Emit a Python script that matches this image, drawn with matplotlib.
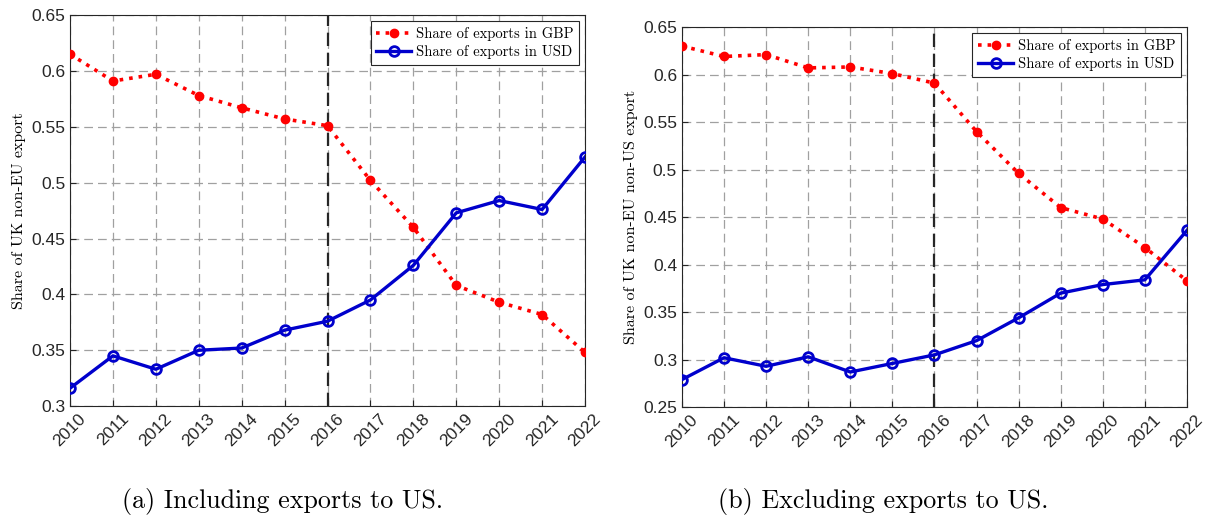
import matplotlib.pyplot as plt
import numpy as np
from matplotlib.ticker import FuncFormatter

years = np.arange(2010, 2023)

# (a) including exports to US
gbp_incl = [0.615, 0.591, 0.597, 0.578, 0.567, 0.557, 0.551, 0.502, 0.460, 0.408, 0.393, 0.382, 0.348]
usd_incl = [0.316, 0.345, 0.333, 0.350, 0.352, 0.368, 0.376, 0.395, 0.426, 0.473, 0.484, 0.476, 0.523]

# (b) excluding exports to US
gbp_excl = [0.630, 0.619, 0.621, 0.607, 0.608, 0.601, 0.591, 0.540, 0.496, 0.460, 0.448, 0.418, 0.383]
usd_excl = [0.279, 0.302, 0.293, 0.303, 0.287, 0.296, 0.305, 0.320, 0.344, 0.370, 0.379, 0.384, 0.436]

brexit_year = 2016
serif = "cmr10"
sans = "Liberation Sans"


def draw_panel(ax, gbp, usd, ylim, ylabel):
    ax.plot(years, gbp, linestyle=":", color="#ff0000", linewidth=2.6,
            marker="o", markersize=6, markerfacecolor="#ff0000",
            label="Share of exports in GBP", zorder=3)
    ax.plot(years, usd, linestyle="-", color="#0000cc", linewidth=2.4,
            marker="o", markersize=7, markerfacecolor="none", markeredgewidth=2,
            label="Share of exports in USD", zorder=3)
    ax.axvline(brexit_year, color="#262626", linestyle=(0, (6, 3)), linewidth=1.6, zorder=2)

    ax.set_xlim(years[0], years[-1])
    ax.set_ylim(*ylim)
    ax.set_xticks(years)
    ax.set_xticklabels([str(y) for y in years], rotation=45, fontfamily=sans, fontsize=12.5)
    ax.set_yticks(np.arange(ylim[0], ylim[1] + 1e-9, 0.05))
    ax.yaxis.set_major_formatter(FuncFormatter(lambda v, _: f"{v:g}"))
    for t in ax.get_yticklabels():
        t.set_fontfamily(sans)
        t.set_fontsize(12.5)
    ax.tick_params(direction="in", colors="#262626", length=4)
    ax.grid(True, color="#a0a0a0", linestyle=(0, (7, 4)), linewidth=0.9)
    for s in ax.spines.values():
        s.set_color("#262626")
        s.set_linewidth(0.8)

    ax.set_ylabel(ylabel, fontfamily=serif, fontsize=11.5)
    leg = ax.legend(loc="upper right", prop={"family": serif, "size": 10.5},
                    fancybox=False, framealpha=1, edgecolor="#262626",
                    handlelength=2.4, borderaxespad=0.4, labelspacing=0.3,
                    handletextpad=0.3)
    leg.get_frame().set_linewidth(0.8)


fig = plt.figure(figsize=(12.07, 5.2), dpi=100)
ax1 = fig.add_axes([0.058, 0.219, 0.4267, 0.752])
ax2 = fig.add_axes([0.565, 0.217, 0.4184, 0.731])

draw_panel(ax1, gbp_incl, usd_incl, (0.3, 0.65), "Share of UK non-EU export")
draw_panel(ax2, gbp_excl, usd_excl, (0.25, 0.65), "Share of UK non-EU non-US export")

fig.text(0.234, 0.035, "(a) Including exports to US.", ha="center", va="center",
         fontfamily=serif, fontsize=18.7)
fig.text(0.732, 0.035, "(b) Excluding exports to US.", ha="center", va="center",
         fontfamily=serif, fontsize=18.7)

fig.savefig("out.png", dpi=100)
